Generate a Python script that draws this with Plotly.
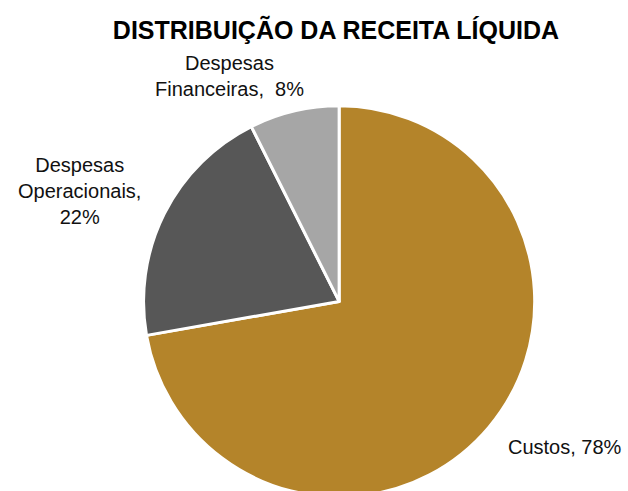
import plotly.graph_objects as go

# Data
categories = ["Custos", "Despesas Operacionais", "Despesas Financeiras"]
values = [78, 22, 8]
label_texts = ["Custos, 78%", "Despesas<br>Operacionais,<br>22%", "Despesas<br>Financeiras,  8%"]
colors = ["#B4842A", "#575757", "#A6A6A6"]
title_text = "DISTRIBUIÇÃO DA RECEITA LÍQUIDA"

H = 497  # slightly taller than the window so the pie bottom is cut off as in the reference

fig = go.Figure()
fig.add_trace(go.Pie(
    labels=categories,
    values=values,
    sort=False,
    direction="clockwise",
    rotation=0,
    marker=dict(colors=colors, line=dict(color="white", width=3)),
    textinfo="none",
    hoverinfo="skip",
    showlegend=False,
    domain=dict(x=[0.18, 0.90], y=[0.0, 0.787]),
))

label_pos = [(0.900, 1 - 447 / H), (0.126, 1 - 191 / H), (0.365, 1 - 76.5 / H)]
for txt, (x, y) in zip(label_texts, label_pos):
    fig.add_annotation(
        text=txt, x=x, y=y, xref="paper", yref="paper",
        xanchor="center", yanchor="middle", showarrow=False, align="center",
        font=dict(family="Liberation Sans, Arial", size=20, color="#111111"),
    )

fig.update_layout(
    width=628, height=H,
    margin=dict(l=0, r=0, t=0, b=0),
    paper_bgcolor="white", plot_bgcolor="white",
    title=dict(
        text="<b>" + title_text + "</b>",
        x=0.535, xanchor="center", y=1 - 30 / H, yanchor="middle",
        font=dict(family="Liberation Sans, Arial", size=25, color="#000000"),
    ),
)

fig.write_html(
    "out.html",
    config={"displayModeBar": False},
    post_script="document.body.style.margin='0';document.body.style.overflow='hidden';",
)
